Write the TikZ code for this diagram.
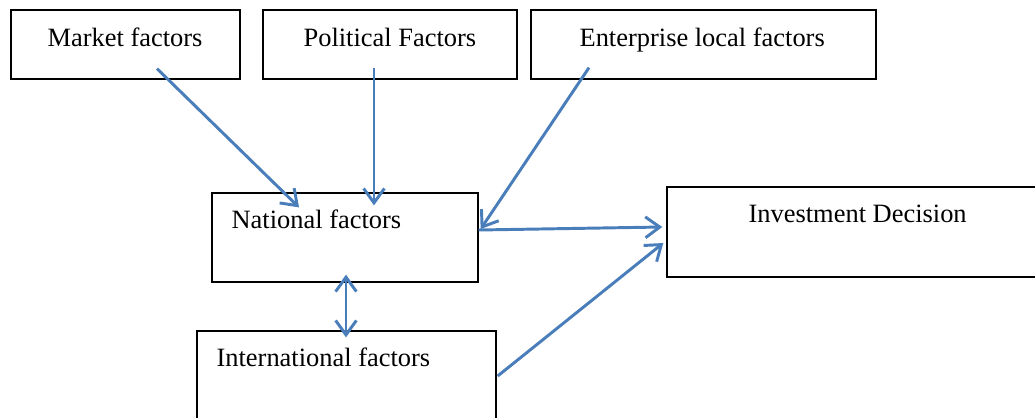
\documentclass[tikz,border=0pt]{standalone}
\usepackage{fontspec}
\setmainfont{Liberation Serif}
\usetikzlibrary{arrows.meta,calc}
\definecolor{linkblue}{RGB}{74,126,187}

\begin{document}
\begin{tikzpicture}[x=0.025cm,y=-0.025cm,>={Straight Barb[length=3.6mm,width=5.2mm]},
  box/.style={draw,rectangle,line width=0.9pt,inner sep=0pt},
  boxtext/.style={anchor=base west,inner sep=0pt,font=\fontsize{18.8}{22}\selectfont},
  link/.style={->,draw=linkblue,line width=2.1pt}]

  \useasboundingbox (0,0) rectangle (1035,417);
  \clip (0,0) rectangle (1035,417);

  % top row
  \node[box,minimum width=5.725cm,minimum height=1.725cm,
    label={[boxtext,xshift=0.925cm,yshift=-0.925cm]north west:Market factors}] (mkt) at (125.5,44.5) {};
  \node[box,minimum width=6.35cm,minimum height=1.725cm,
    label={[boxtext,xshift=1.025cm,yshift=-0.925cm]north west:Political Factors}] (pol) at (390,44.5) {};
  \node[box,minimum width=8.625cm,minimum height=1.725cm,
    label={[boxtext,xshift=1.225cm,yshift=-0.925cm]north west:Enterprise local factors}] (ent) at (703.5,44.5) {};

  % middle and bottom
  \node[box,minimum width=6.65cm,minimum height=2.225cm,
    label={[boxtext,xshift=0.5cm,yshift=-0.9cm]north west:National factors}] (nat) at (345,237.5) {};
  \node[box,minimum width=9.375cm,minimum height=2.25cm,
    label={[boxtext,xshift=2.05cm,yshift=-0.9cm]north west:Investment Decision}] (inv) at (854.5,232) {};
  \node[box,minimum width=7.475cm,minimum height=2.375cm,
    label={[boxtext,xshift=0.5cm,yshift=-0.9cm]north west:International factors}] (intl) at (346.5,378.5) {};

  \draw[link] ($(mkt.south)+(31.5,-11)$) -- ($(nat.north)+(-46,15)$);
  \draw[link] ($(pol.south)+(-16,-12)$) -- ($(nat.north)+(29,13)$);
  \draw[link] ($(ent.south)+(-114.5,-12)$) -- ($(nat.east)+(2,-8.5)$);
  \draw[link] ($(nat.east)+(0,-7.5)$) -- ($(inv.west)+(-4,-5)$);
  \draw[link,<->] ($(nat.south)+(1,-8)$) -- ($(intl.north)+(-0.5,7)$);
  \draw[link] ($(intl.east)+(1,-2.5)$) -- ($(inv.west)+(-3,11)$);

\end{tikzpicture}
\end{document}
